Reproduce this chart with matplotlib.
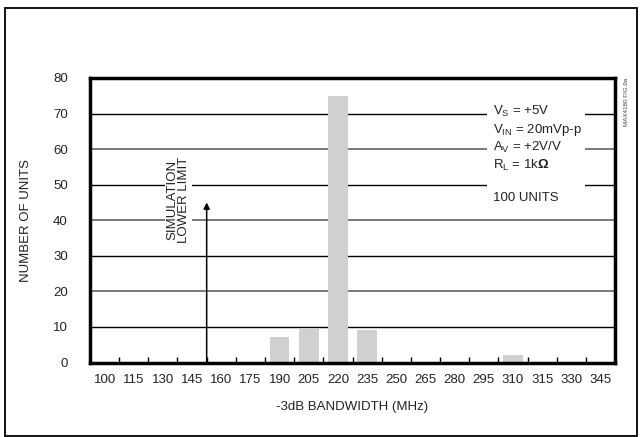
import matplotlib
matplotlib.use("Agg")
import matplotlib.pyplot as plt
from matplotlib.patches import Rectangle
import numpy as np

# -3dB bandwidth histogram, 100 units
bandwidth = ["100", "115", "130", "145", "160", "175", "190", "205", "220",
             "235", "250", "265", "280", "295", "310", "315", "330", "345"]
units = [0, 0, 0, 0, 0, 0, 7.3, 9.5, 75, 9.2, 0, 0, 0, 0, 2.1, 0, 0, 0]
yticks = [0, 10, 20, 30, 40, 50, 60, 70, 80]
sim_lower_limit = 3.5   # boundary between 145 and 160
arrow_top = 45

plt.rcParams['font.family'] = ['Liberation Sans', 'DejaVu Sans']
plt.rcParams['mathtext.fontset'] = 'custom'
plt.rcParams['mathtext.rm'] = 'Liberation Sans'
plt.rcParams['mathtext.it'] = 'Liberation Sans'
plt.rcParams['mathtext.bf'] = 'Liberation Sans:bold'

txt = "#222222"
fs = 9.5
fig = plt.figure(figsize=(6.42, 4.37), dpi=100)
fig.patches.append(Rectangle((5/642, 1/437), 632/642, 428/437, transform=fig.transFigure,
                             fill=False, ec="black", lw=1.3))
ax = fig.add_axes([90/642, 1-362.5/437, 525/642, 284.5/437])

x = np.arange(len(bandwidth))
# gridlines: odd decades black, even decades gray
for v in yticks[1:-1]:
    if v % 20 == 10:
        ax.axhline(v, color="black", lw=1.0, zorder=1)
    else:
        ax.axhline(v, color="#7a7a7a", lw=1.4, zorder=1)

ax.bar(x, units, width=0.68, color="#d0d0d0", zorder=2)

ax.set_xlim(-0.5, len(bandwidth) - 0.5)
ax.set_ylim(0, 80)
ax.set_xticks(x)
ax.set_xticklabels(bandwidth)
ax.set_xticks(x[:-1] + 0.5, minor=True)
ax.set_yticks(yticks)
ax.tick_params(axis="x", which="major", length=0, pad=8, labelsize=fs, labelcolor=txt)
ax.tick_params(axis="x", which="minor", direction="in", length=4.5, width=1, color="black")
ax.tick_params(axis="y", length=0, pad=16, labelsize=fs, labelcolor=txt)
for s in ax.spines.values():
    s.set_linewidth(2.5)
    s.set_zorder(5)

ax.set_xlabel("-3dB BANDWIDTH (MHz)", fontsize=fs, color=txt)
ax.xaxis.set_label_coords(0.5, -0.135)
ax.set_ylabel("NUMBER OF UNITS", fontsize=fs, color=txt)
ax.yaxis.set_label_coords(-0.11, 0.5)

# simulation lower limit
ax.annotate("", xy=(sim_lower_limit, arrow_top), xytext=(sim_lower_limit, 0),
            arrowprops=dict(arrowstyle="-|>", color="black", lw=1.1,
                            mutation_scale=9, shrinkA=0, shrinkB=0), zorder=4)
ax.text(2.52, 45.8, "SIMULATION\nLOWER LIMIT", rotation=90, ha="center", va="center",
        fontsize=fs, color=txt, linespacing=1.0, zorder=3,
        bbox=dict(fc="white", ec="none", pad=1))

# conditions box
ax.add_patch(Rectangle((13.11, 42.3), 3.36, 30.7, fc="white", ec="none", zorder=3))
cond = [r"V$_\mathrm{S}$ = +5V", r"V$_\mathrm{IN}$ = 20mVp-p", r"A$_\mathrm{V}$ = +2V/V",
        r"R$_\mathrm{L}$ = 1k$\mathbf{\Omega}$"]
for i, c in enumerate(cond):
    ax.text(13.32, 70.5 - i * 5.0, c, ha="left", va="center", fontsize=fs, color=txt, zorder=4)
ax.text(13.32, 46.2, "100 UNITS", ha="left", va="center", fontsize=fs, color=txt, zorder=4)

fig.text(627/642, 1-102/437, "MAX4180 FIG.9a", rotation=90, ha="center", va="center",
         fontsize=4.5, color="#444444")

plt.savefig("out.png", dpi=100)
